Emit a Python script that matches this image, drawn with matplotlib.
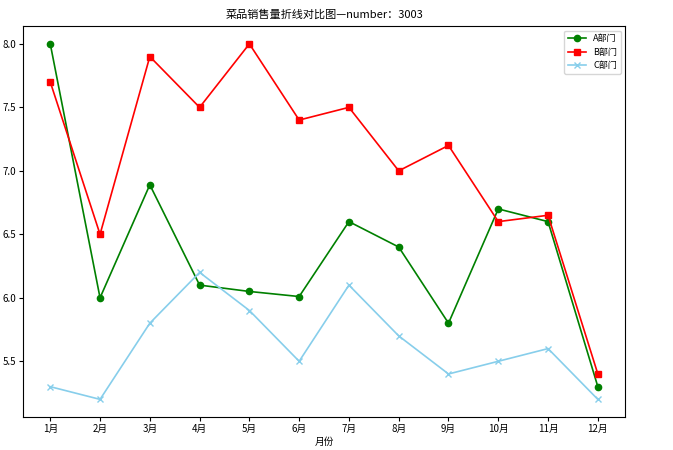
import matplotlib
matplotlib.use('Agg')
import matplotlib.pyplot as plt

plt.rcParams['font.family'] = ['Noto Sans CJK SC', 'DejaVu Sans']
plt.rcParams['axes.unicode_minus'] = False

months = ['1月', '2月', '3月', '4月', '5月', '6月', '7月', '8月', '9月', '10月', '11月', '12月']
dept_a = [8.0, 6.0, 6.89, 6.1, 6.05, 6.01, 6.6, 6.4, 5.8, 6.7, 6.6, 5.3]
dept_b = [7.7, 6.5, 7.9, 7.5, 8.0, 7.4, 7.5, 7.0, 7.2, 6.6, 6.65, 5.4]
dept_c = [5.3, 5.2, 5.8, 6.2, 5.9, 5.5, 6.1, 5.7, 5.4, 5.5, 5.6, 5.2]

fig = plt.figure(figsize=(6.73, 4.5), dpi=100)
ax = fig.add_axes([0.034, 0.073, 0.895, 0.869])

ax.plot(months, dept_a, color='green', marker='o', markersize=4.5, linewidth=1.2, label='A部门')
ax.plot(months, dept_b, color='red', marker='s', markersize=4.5, linewidth=1.2, label='B部门')
ax.plot(months, dept_c, color='skyblue', marker='x', markersize=4.5, linewidth=1.2, label='C部门')

ax.set_title('菜品销售量折线对比图—number：3003', fontsize=8)
ax.set_xlabel('月份', fontsize=7, labelpad=2)
ax.tick_params(labelsize=7, length=3, pad=2)
ax.legend(loc='upper right', fontsize=6.5)

fig.savefig('out.png', dpi=100)
